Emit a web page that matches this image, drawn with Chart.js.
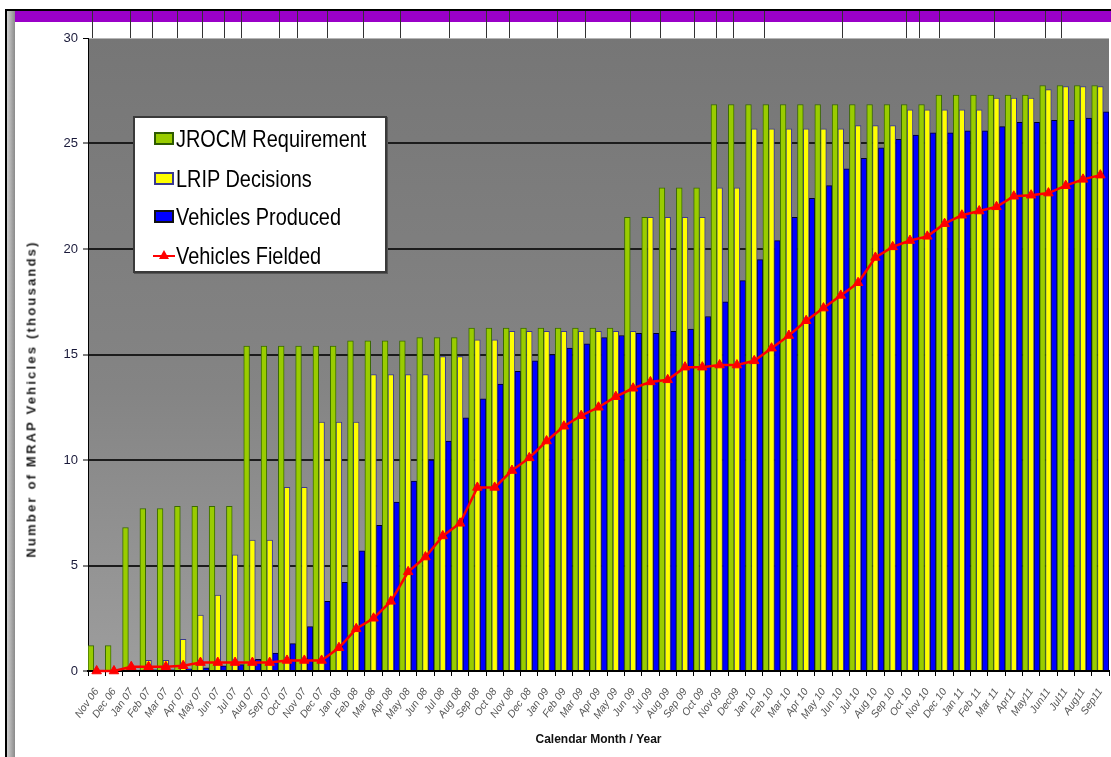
<!DOCTYPE html>
<html><head><meta charset="utf-8">
<script src="https://cdn.jsdelivr.net/npm/chart.js@4.4.0/dist/chart.umd.min.js"></script>
<style>
html,body{margin:0;padding:0;background:#fff;}
#wrap{position:relative;width:1111px;height:757px;overflow:hidden;background:#fff;}
#c{position:absolute;left:0;top:0;}
#legend{position:absolute;left:133px;top:116px;width:254px;height:157px;box-sizing:border-box;border:2px solid #3a3a3a;background:#fff;box-shadow:1px 1px 0 #555;}
#legend .sw{position:absolute;left:19px;width:20px;height:13px;box-sizing:border-box;border:2px solid #333;}
#legend .ln{position:absolute;left:18px;width:22px;height:2px;background:#ff0000;}
#legend .tri{position:absolute;left:24px;width:0;height:0;border-left:5px solid transparent;border-right:5px solid transparent;border-bottom:9px solid #ff0000;}
#legend .tx{position:absolute;left:41px;font:24px "Liberation Sans",Arial,sans-serif;line-height:28px;height:28px;white-space:nowrap;color:#000;transform:scaleX(0.83);transform-origin:0 50%;}
#ytitle{position:absolute;left:30.5px;top:399px;transform:translate(-50%,-50%) rotate(-90deg);font:bold 13px "Liberation Sans",Arial,sans-serif;letter-spacing:2.2px;white-space:nowrap;color:#1a1a1a;}
</style>
</head><body>
<div id="wrap">
<canvas id="c" width="1111" height="757"></canvas>
<div id="legend"></div>
<div id="ytitle"></div>
</div>
<script>
const months = ['Nov 06','Dec 06','Jan 07','Feb 07','Mar 07','Apr 07','May 07','Jun 07','Jul 07','Aug 07','Sep 07','Oct 07','Nov 07','Dec 07',
 'Jan 08','Feb 08','Mar 08','Apr 08','May 08','Jun 08','Jul 08','Aug 08','Sep 08','Oct 08','Nov 08','Dec 08',
 'Jan 09','Feb 09','Mar 09','Apr 09','May 09','Jun 09','Jul 09','Aug 09','Sep 09','Oct 09','Nov 09','Dec09',
 'Jan 10','Feb 10','Mar 10','Apr 10','May 10','Jun 10','Jul 10','Aug 10','Sep 10','Oct 10','Nov 10','Dec 10',
 'Jan 11','Feb 11','Mar 11','Apr11','May11','Jun11','Jul11','Aug11','Sep11'];

const jrocmRequirement = [1.2,1.2,6.8,7.7,7.7,7.8,7.8,7.8,7.8,15.4,15.4,15.4,15.4,15.4,
 15.4,15.65,15.65,15.65,15.65,15.8,15.8,15.8,16.25,16.25,16.25,16.25,
 16.25,16.25,16.25,16.25,16.25,21.5,21.5,22.9,22.9,22.9,26.85,26.85,
 26.85,26.85,26.85,26.85,26.85,26.85,26.85,26.85,26.85,26.85,26.85,27.3,
 27.3,27.3,27.3,27.3,27.3,27.75,27.75,27.75,27.75];

const lripDecisions = [0,0,0,0.5,0.5,1.5,2.65,3.6,5.5,6.2,6.2,8.7,8.7,11.8,
 11.8,11.8,14.05,14.05,14.05,14.05,14.9,14.9,15.7,15.7,16.1,16.1,
 16.1,16.1,16.1,16.1,16.1,16.1,21.5,21.5,21.5,21.5,22.9,22.9,
 25.7,25.7,25.7,25.7,25.7,25.7,25.85,25.85,25.85,26.6,26.6,26.6,
 26.6,26.6,27.15,27.15,27.15,27.55,27.7,27.7,27.7];

const vehiclesProduced = [0,0,0,0.05,0.05,0.1,0.15,0.25,0.3,0.55,0.85,1.3,2.1,3.3,
 4.2,5.7,6.9,8.0,9.0,10.0,10.9,12.0,12.9,13.6,14.2,14.7,
 15.0,15.3,15.5,15.8,15.9,16.0,16.0,16.1,16.2,16.8,17.5,18.5,
 19.5,20.4,21.5,22.4,23.0,23.8,24.3,24.8,25.2,25.4,25.5,25.5,
 25.6,25.6,25.8,26.0,26.0,26.1,26.1,26.2,26.5];

const vehiclesFielded = [0,0,0.2,0.2,0.2,0.25,0.4,0.4,0.4,0.4,0.4,0.5,0.5,0.5,
 1.1,2.0,2.5,3.3,4.7,5.4,6.4,7.0,8.7,8.7,9.5,10.1,
 10.9,11.6,12.1,12.5,13.0,13.4,13.7,13.8,14.4,14.4,14.5,14.5,
 14.7,15.3,15.9,16.6,17.2,17.8,18.4,19.6,20.1,20.4,20.6,21.2,
 21.6,21.8,22.0,22.5,22.55,22.65,23.0,23.3,23.5];

const yTicks = [0,5,10,15,20,25,30];
const seriesNames = ['JROCM Requirement','LRIP Decisions','Vehicles Produced','Vehicles Fielded'];
const xTitle = 'Calendar Month / Year';
const yTitle = 'Number of MRAP Vehicles (thousands)';

// decoration (frame of the original slide)
const stripLines = [92,130,152,177,202,224,241,279,297,327,363,400,449,486,509,557,585,630,660,694,716,733,764,842,906,919,939,994,1045,1061];

const FONT = '"Liberation Sans", Arial, sans-serif';
const colors = {
  green:'#99cc00', greenBorder:'#3a6a00',
  yellow:'#ffff00', yellowBorder:'#3a3a90',
  blue:'#0000ff', blueBorder:'#00002a',
  red:'#ff0000'
};

const deco = {
  id:'deco',
  beforeDraw(chart){
    const {ctx, chartArea:a} = chart;
    ctx.save();
    const g = ctx.createLinearGradient(0,a.top,0,a.bottom);
    g.addColorStop(0,'#767676'); g.addColorStop(0.55,'#848484'); g.addColorStop(1,'#9d9d9d');
    ctx.fillStyle = g;
    ctx.fillRect(a.left,a.top,a.right-a.left,a.bottom-a.top);
    ctx.fillStyle = '#000';
    ctx.fillRect(5,9,1106,2);
    ctx.fillRect(5,9,2,748);
    const lg = ctx.createLinearGradient(7,0,15,0);
    lg.addColorStop(0,'#d0d0d0'); lg.addColorStop(1,'#8a8a8a');
    ctx.fillStyle = lg; ctx.fillRect(7,11,8,746);
    ctx.fillStyle = '#9a00c8'; ctx.fillRect(15,11,1096,11);
    ctx.strokeStyle = '#333'; ctx.lineWidth = 1;
    for (const x of stripLines){ ctx.beginPath(); ctx.moveTo(x+0.5,11); ctx.lineTo(x+0.5,38); ctx.stroke(); }
    ctx.restore();
  }
};

const chart = new Chart(document.getElementById('c').getContext('2d'), {
  type:'bar',
  data:{
    labels: months,
    datasets:[
      {type:'line', label:seriesNames[3], data:vehiclesFielded, borderColor:colors.red, backgroundColor:colors.red,
       borderWidth:2.5, pointStyle:'triangle', pointRadius:5.5, pointBackgroundColor:colors.red, pointBorderColor:colors.red,
       pointBorderWidth:1, tension:0, order:0, clip:false},
      {label:seriesNames[0], data:jrocmRequirement, backgroundColor:colors.green, borderColor:colors.greenBorder, borderWidth:1, order:1},
      {label:seriesNames[1], data:lripDecisions, backgroundColor:colors.yellow, borderColor:colors.yellowBorder, borderWidth:1, order:1},
      {label:seriesNames[2], data:vehiclesProduced, backgroundColor:colors.blue, borderColor:colors.blueBorder, borderWidth:1, order:1}
    ]
  },
  options:{
    responsive:false, animation:false, devicePixelRatio:1,
    layout:{autoPadding:false, padding:{top:38,right:2,left:0,bottom:0}},
    plugins:{legend:{display:false}, tooltip:{enabled:false}},
    datasets:{bar:{categoryPercentage:1.0, barPercentage:1.0}},
    scales:{
      x:{
        offset:true,
        grid:{offset:true, drawOnChartArea:false, drawTicks:true, tickLength:5, color:'#000'},
        border:{color:'#000', width:2},
        ticks:{autoSkip:false, maxRotation:55, minRotation:55, padding:10,
               font:{family:FONT, size:10.5, style:'italic'}, color:'#555'},
        title:{display:true, text:xTitle, color:'#111', font:{family:FONT, size:12, weight:'bold'}, padding:{top:0,bottom:10}},
        afterFit(s){ s.height = 86; s.paddingLeft = 0; s.paddingRight = 0; }
      },
      y:{
        min:0, max:30,
        afterBuildTicks(s){ s.ticks = yTicks.map(v=>({value:v})); },
        ticks:{padding:5, font:{family:FONT, size:13}, color:'#1a1a3a'},
        grid:{color:c=> (c.tick && c.tick.value===30) ? '#b5b5b5' : '#1c1c1c',
              lineWidth:c=> (c.tick && c.tick.value===30) ? 1 : 2,
              tickLength:5, tickColor:'#000', tickWidth:1},
        border:{color:'#000', width:1},
        afterFit(s){ s.width = 88; s.paddingTop = 0; s.paddingBottom = 0; }
      }
    }
  },
  plugins:[deco]
});

// legend (HTML, built from series names)
const legend = document.getElementById('legend');
const rowCenters = [21, 61, 99, 138];
const swatches = [[colors.green,'#2d5a00'],[colors.yellow,'#3a3a90'],[colors.blue,'#111']];
seriesNames.forEach((name,i)=>{
  const cy = rowCenters[i];
  if (i < 3){
    const sw = document.createElement('div'); sw.className='sw';
    sw.style.top = (cy-7)+'px'; sw.style.background = swatches[i][0]; sw.style.borderColor = swatches[i][1];
    legend.appendChild(sw);
  } else {
    const ln = document.createElement('div'); ln.className='ln'; ln.style.top=(cy-1)+'px'; legend.appendChild(ln);
    const tr = document.createElement('div'); tr.className='tri'; tr.style.top=(cy-6)+'px'; legend.appendChild(tr);
  }
  const tx = document.createElement('div'); tx.className='tx'; tx.textContent = name; tx.style.top = (cy-14)+'px';
  legend.appendChild(tx);
});
document.getElementById('ytitle').textContent = yTitle;
</script>
</body></html>
